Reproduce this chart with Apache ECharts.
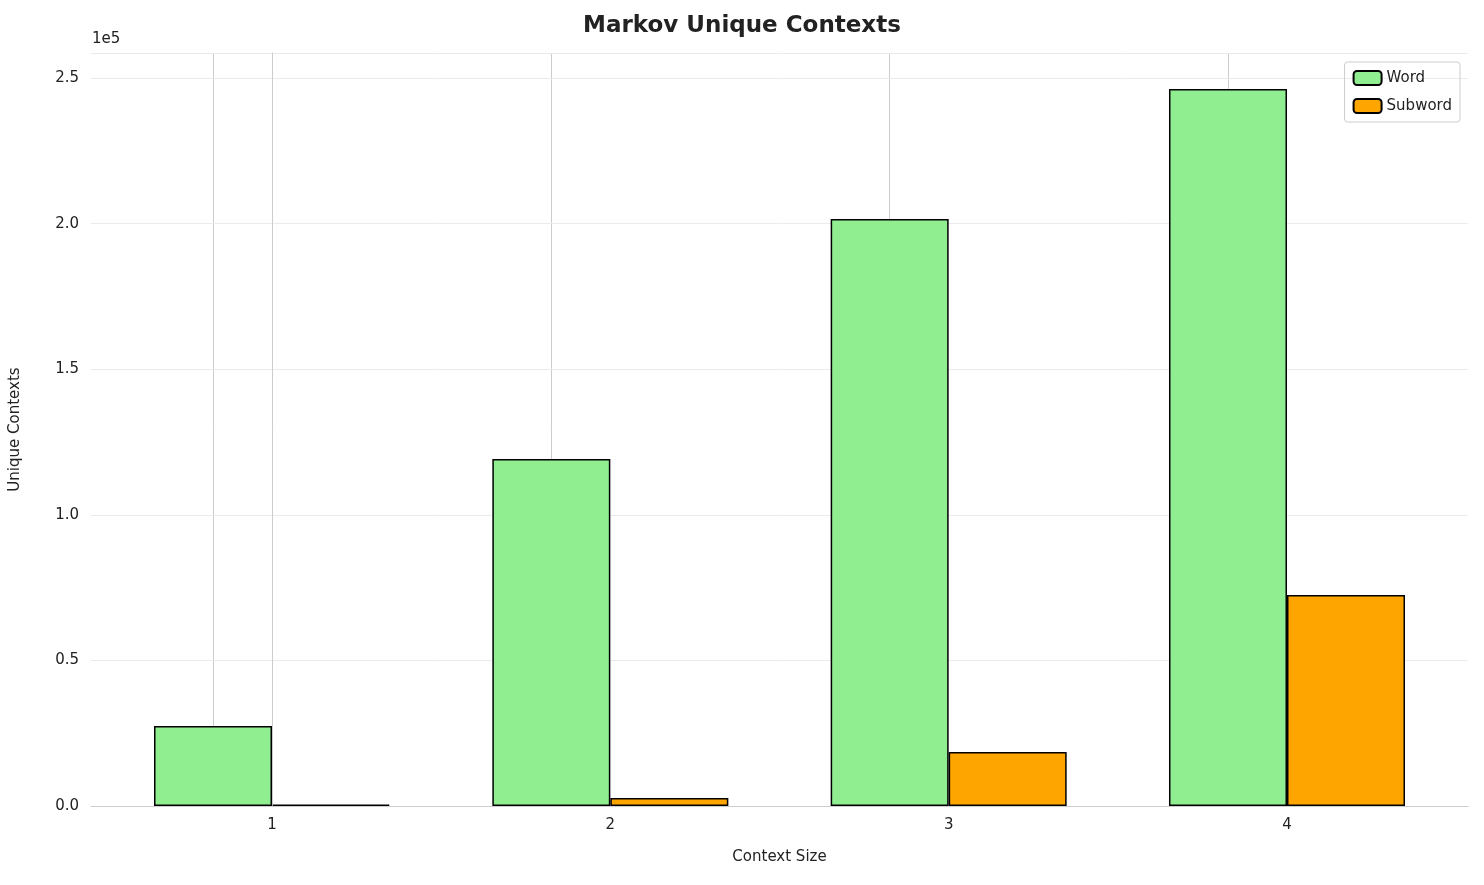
<!DOCTYPE html><html><head><meta charset="utf-8"><script src="https://cdn.jsdelivr.net/npm/echarts@6/dist/echarts.min.js"></script></head><body style="margin:0"><div id="c" style="width:1484px;height:885px"></div><script>
const categories=[1,2,3,4];
const wordVals=[27500,119200,201600,246200];
const subwordVals=[500,2750,18550,72450];
const yTicks=[0,50000,100000,150000,200000,250000];
const ch=echarts.init(document.getElementById('c'));
const pos=categories.map((c,i)=>i);
const F='DejaVu Sans';
ch.setOption({
 animation:false,
 textStyle:{fontFamily:F},
 title:{text:'Markov Unique Contexts',left:'center',top:10,textStyle:{fontSize:23,fontWeight:'bold',color:'#222',fontFamily:F}},
 legend:{right:24,top:62,orient:'vertical',itemWidth:28,itemHeight:14,itemGap:12,padding:[8,8,8,8],borderColor:'#ccc',borderWidth:1,borderRadius:3,textStyle:{fontSize:15,color:'#222'},data:['Word','Subword']},
 graphic:[{type:'text',left:92,top:32,style:{text:'1e5',fontSize:15,fill:'#222',fontFamily:F}}],
 grid:{left:91,right:16,top:53,bottom:79},
 xAxis:{type:'value',min:-0.535,max:3.535,name:'Context Size',nameLocation:'middle',nameGap:44,nameTextStyle:{fontSize:15,color:'#222'},
  axisLine:{show:true,lineStyle:{color:'#ccc'}},axisTick:{show:false},splitLine:{show:false},
  axisLabel:{customValues:pos,formatter:v=>String(categories[Math.round(v)]),fontSize:15,color:'#222',margin:12}},
 yAxis:{type:'value',min:0,max:258600,interval:50000,name:'Unique Contexts',nameLocation:'middle',nameGap:68,nameTextStyle:{fontSize:15,color:'#222'},
  axisLine:{show:true,lineStyle:{color:'#ccc'}},axisTick:{show:false},
  splitLine:{lineStyle:{color:'#ebebeb'}},
  axisLabel:{customValues:yTicks,formatter:v=>(v/1e5).toFixed(1),fontSize:15,color:'#222',margin:12}},
 series:[
  {name:'Word',type:'bar',barWidth:118,barGap:'0%',data:wordVals.map((v,i)=>[pos[i],v]),itemStyle:{color:'#90ee90',borderColor:'#000',borderWidth:1.5},
   markLine:{silent:true,symbol:'none',label:{show:false},lineStyle:{color:'#ccc',type:'solid',width:1},data:pos.map(p=>({xAxis:p})),z:-1}},
  {name:'Subword',type:'bar',barWidth:118,barGap:'0%',data:subwordVals.map((v,i)=>[pos[i],v]),itemStyle:{color:'#ffa500',borderColor:'#000',borderWidth:1.5}}
 ]
});
</script></body></html>
